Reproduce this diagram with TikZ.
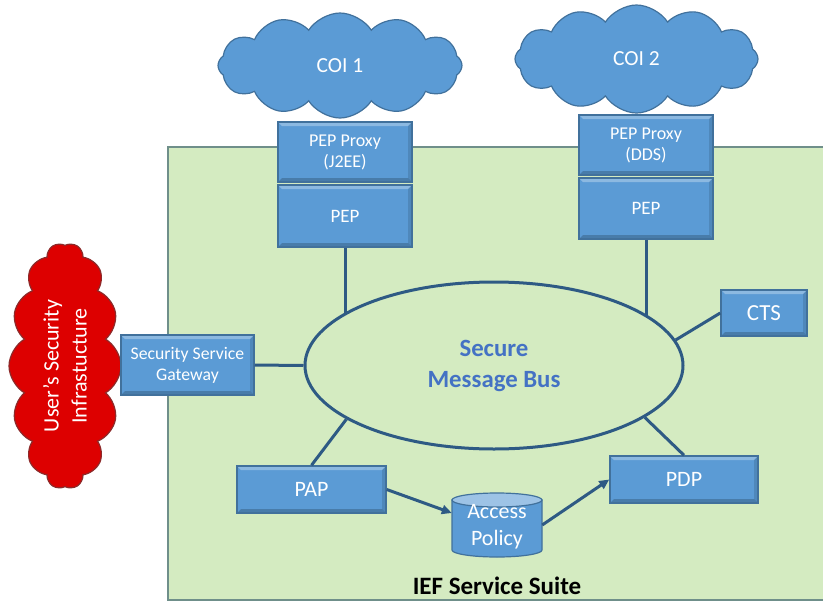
\documentclass[tikz,border=0pt]{standalone}
\usepackage{fontspec}
\setmainfont{Carlito}
\usetikzlibrary{shapes.symbols,shapes.geometric,arrows.meta,calc}
\definecolor{boxfill}{HTML}{5B9BD5}
\definecolor{boxedge}{HTML}{41719C}
\definecolor{boxtop}{HTML}{9DC3E6}
\definecolor{linec}{HTML}{2E5A84}
\definecolor{greenfill}{HTML}{D4EBC1}
\definecolor{greenedge}{HTML}{6F8F8A}
\definecolor{bustext}{HTML}{4472C4}
\definecolor{redfill}{HTML}{DD0000}
\definecolor{rededge}{HTML}{8C2A2A}
\begin{document}
\begin{tikzpicture}[x=1pt,y=-1pt,
  sbox/.style={draw=boxedge, fill=boxfill, line width=1.5pt, text=white,
    inner sep=0pt, align=center, font=\fontsize{18}{21}\selectfont,
    path picture={
      \fill[white,opacity=0.3] (path picture bounding box.north west) -- (path picture bounding box.north east)
        -- ([xshift=-4pt,yshift=-4pt]path picture bounding box.north east) -- ([xshift=4pt,yshift=-4pt]path picture bounding box.north west) -- cycle;
      \fill[black,opacity=0.2] (path picture bounding box.south west) -- (path picture bounding box.south east)
        -- ([xshift=-4pt,yshift=4pt]path picture bounding box.south east) -- ([xshift=4pt,yshift=4pt]path picture bounding box.south west) -- cycle;
      \fill[black,opacity=0.12] (path picture bounding box.north east) -- (path picture bounding box.south east)
        -- ([xshift=-4pt,yshift=4pt]path picture bounding box.south east) -- ([xshift=-4pt,yshift=-4pt]path picture bounding box.north east) -- cycle;
    }},
  conn/.style={draw=linec, line width=3pt},
  arr/.style={conn, -{Triangle[length=10pt,width=9pt]}},
  bluecloud/.style={cloud, cloud puffs=12, cloud puff arc=115, draw=boxedge, fill=boxfill,
    line width=1.2pt, text=white, inner sep=0pt, font=\fontsize{21.5}{25}\selectfont},
]
\useasboundingbox (0,0) rectangle (823,603);
% service suite area
\draw[greenedge, fill=greenfill, line width=1.5pt] (168,147) rectangle (835,600);
\node[anchor=base, font=\bfseries\fontsize{25}{30}\selectfont] (ief) at (497,594) {IEF Service Suite};

% clouds
\node[bluecloud, aspect=2.3, minimum width=244pt, minimum height=105pt] (coi1) at (340,65.5) {COI 1};
\node[bluecloud, aspect=2.25, minimum width=243pt, minimum height=108pt] (coi2) at (636.5,59) {COI 2};
\node[cloud, cloud puffs=14, cloud puff arc=120, aspect=2.2, rotate=90, minimum width=246pt, minimum height=112pt,
  inner sep=0pt, fill=redfill, draw=rededge, line width=1.2pt, text=white, align=center,
  font=\fontsize{22}{28}\selectfont] (usr) at (65,366) {User’s Security\\Infrastucture};

% boxes
\node[sbox, minimum width=134pt, minimum height=60pt] (px1) at (345,152) {PEP Proxy\\(J2EE)};
\node[sbox, minimum width=134pt, minimum height=62pt, font=\fontsize{19}{22}\selectfont] (pep1) at (345,216) {PEP};
\node[sbox, minimum width=134pt, minimum height=60pt] (px2) at (646,145) {PEP Proxy\\(DDS)};
\node[sbox, minimum width=134pt, minimum height=61pt, font=\fontsize{19}{22}\selectfont] (pep2) at (646,208.5) {PEP};
\node[sbox, minimum width=86pt, minimum height=46pt, font=\fontsize{23}{26}\selectfont] (cts) at (764,313) {CTS};
\node[sbox, minimum width=133pt, minimum height=60pt, font=\fontsize{17.7}{21}\selectfont] (gw) at (187.5,365) {Security Service\\Gateway};
\node[sbox, minimum width=149pt, minimum height=47pt, font=\fontsize{22}{26}\selectfont] (pap) at (311.5,489.5) {PAP};
\node[sbox, minimum width=148pt, minimum height=47pt, font=\fontsize{22}{26}\selectfont] (pdp) at (684,479.5) {PDP};

% message bus
\node[ellipse, draw=linec, line width=3pt, minimum width=378pt, minimum height=167pt, inner sep=0pt,
  text=bustext, align=center, font=\bfseries\fontsize{24.8}{31}\selectfont] (bus) at (494,365.5) {Secure\\Message Bus};

% access policy store
\fill[boxfill, draw=boxedge, line width=1.2pt] (452,500) -- (452,550)
  arc[start angle=180, end angle=360, x radius=45pt, y radius=7pt] -- (542,500) -- cycle;
\draw[boxedge, fill=boxtop, line width=1.2pt] (497,500) ellipse [x radius=45pt, y radius=7pt];
\node[minimum width=90pt, minimum height=64pt, inner sep=0pt, text=white, align=center,
  font=\fontsize{22}{27}\selectfont] (acc) at (497,527) {Access\\Policy};

% connectors
\draw[conn] (pep1.south) -- (pep1.south |- bus.161);
\draw[conn] (pep2.south) -- (pep2.south |- bus.18);
\draw[conn] (gw.east) -- (bus.west);
\draw[conn] (cts.west) -- (bus.8);
\draw[conn] (pap.north) -- (bus.200);
\draw[conn] (pdp.north) -- (bus.-19);
\draw[arr] (pap.east) -- ([yshift=14pt]acc.west);
\draw[arr] ([yshift=2pt]acc.east) -- (pdp.west);
\end{tikzpicture}
\end{document}
